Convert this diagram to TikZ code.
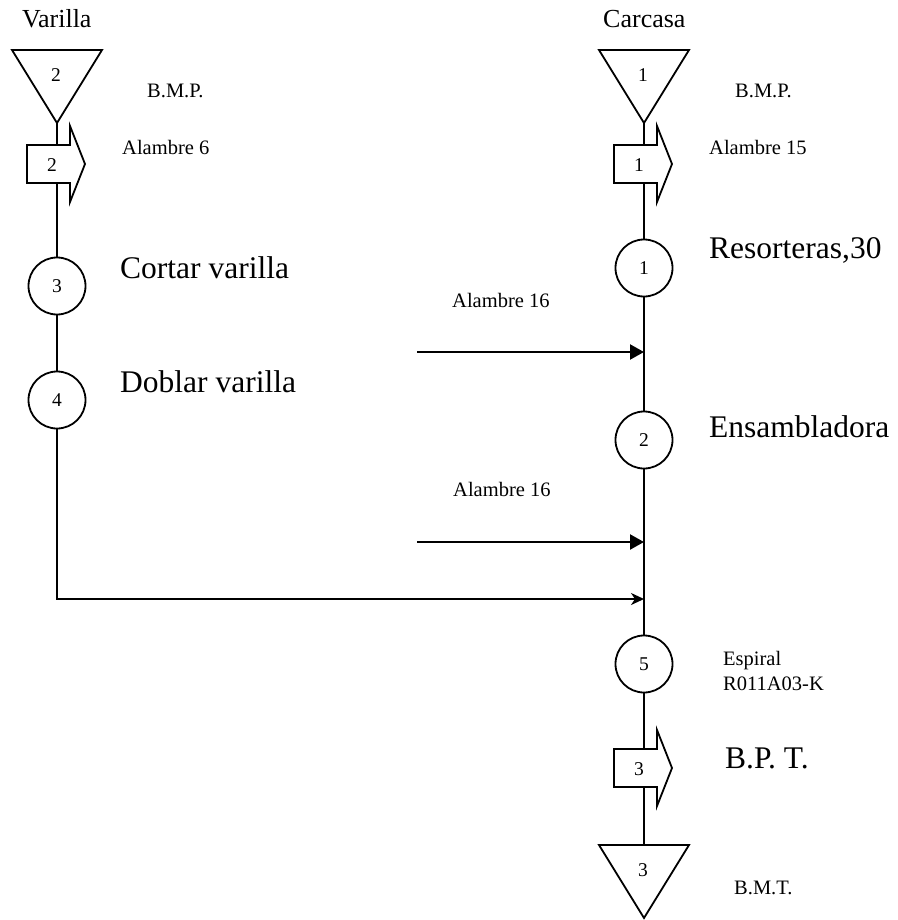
\documentclass[tikz,border=0pt]{standalone}
\usepackage{fontspec}
\setmainfont{Liberation Serif}
\usetikzlibrary{arrows.meta}
\begin{document}
\begin{tikzpicture}[x=1pt,y=-1pt,
  flow/.style={line width=1.8pt},
  feed/.style={line width=2.2pt,-{Triangle[length=14pt,width=15pt]}},
  merge/.style={line width=2.2pt,-{Stealth[length=13pt,width=12pt,inset=4pt]}},
  numtext/.style={inner sep=0pt,font=\fontsize{19.5}{20}\selectfont},
  op/.style={circle,draw,line width=1.8pt,minimum size=57pt,inner sep=0pt,font=\fontsize{19.5}{20}\selectfont},
  small/.style={anchor=base west,inner sep=0pt,font=\fontsize{20.5}{25}\selectfont},
  heading/.style={anchor=base west,inner sep=0pt,font=\fontsize{26}{30}\selectfont},
  big/.style={anchor=base west,inner sep=0pt,font=\fontsize{31.5}{36}\selectfont},
  storage/.pic={
    \draw[flow,line join=miter] (-45,0) -- (45,0) -- (0,73) -- cycle;
    \coordinate (-apex) at (0,73);
    \coordinate (-base) at (0,0);
    \node[numtext] (-num) at (-1,25) {#1};
  },
  transport/.pic={
    \draw[flow,line join=miter] (-30,-19) -- (13,-19) -- (13,-38) -- (28,0)
      -- (13,38) -- (13,19) -- (-30,19) -- cycle;
    \coordinate (-top) at (0,-19);
    \coordinate (-bottom) at (0,19);
    \node[numtext] (-num) at (-5,1) {#1};
  }
]
\useasboundingbox (0,0) rectangle (897,920);

% column titles
\node[heading] (tVar) at (22,28) {Varilla};
\node[heading] (tCar) at (603,28) {Carcasa};

% ---- Varilla line ----
\pic (s2) at (57,50) {storage=2};
\pic (t2) at (57,164) {transport=2};
\node[op] (c3) at (57,286) {3};
\node[op] (c4) at (57,400) {4};
\coordinate (corner) at (57,599);

\node[small] (lBmpL) at (147,98) {B.M.P.};
\node[small] (lAl6) at (122,155) {Alambre 6};
\node[big] (lCort) at (120,278) {Cortar varilla};
\node[big] (lDobl) at (120,392) {Doblar varilla};

% ---- Carcasa line ----
\pic (s1) at (644,50) {storage=1};
\pic (t1) at (644,164) {transport=1};
\node[op] (c1) at (644,268) {1};
\coordinate (j1) at (644,352);
\node[op] (c2) at (644,440) {2};
\coordinate (j2) at (644,542);
\coordinate (j3) at (644,599);
\node[op] (c5) at (644,664) {5};
\pic (t3) at (644,768) {transport=3};
\pic (s3) at (644,845) {storage=3};

\node[small] (lBmpR) at (735,98) {B.M.P.};
\node[small] (lAl15) at (709,155) {Alambre 15};
\node[big] (lRes) at (709,258) {Resorteras,30};
\node[big] (lEns) at (709,437) {Ensambladora};
\node[small] (lEsp) at (723,665) {Espiral};
\node[small] (lRef) at (723,690) {R011A03-K};
\node[big] (lBpt) at (725,768) {B.P. T.};
\node[small] (lBmt) at (734,894) {B.M.T.};

% incoming wire feeds
\coordinate (f1) at (417,352);
\coordinate (f2) at (417,542);
\node[small] (lAl16a) at (452,307) {Alambre 16};
\node[small] (lAl16b) at (453,496) {Alambre 16};

% connectors
\draw[flow] (s2-apex) -- (t2-top);
\draw[flow] (t2-bottom) -- (c3);
\draw[flow] (c3) -- (c4);
\draw[merge] (c4) -- (corner) -- (j3);

\draw[flow] (s1-apex) -- (t1-top);
\draw[flow] (t1-bottom) -- (c1);
\draw[flow] (c1) -- (c2);
\draw[flow] (c2) -- (c5);
\draw[flow] (c5) -- (t3-top);
\draw[flow] (t3-bottom) -- (s3-base);

\draw[feed] (f1) -- (j1);
\draw[feed] (f2) -- (j2);
\end{tikzpicture}
\end{document}
